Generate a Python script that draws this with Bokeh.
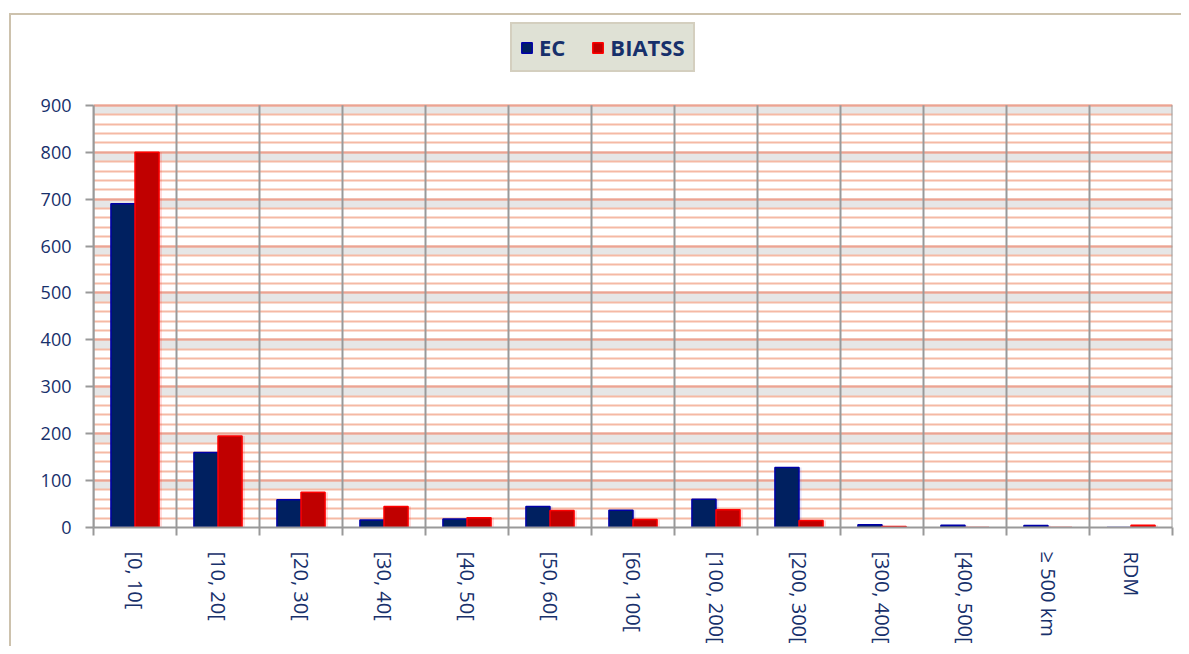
from bokeh.plotting import figure
from bokeh.models import (ColumnDataSource, FixedTicker, SingleIntervalTicker, BoxAnnotation,
                          Legend, LegendItem, Range1d)
from bokeh.embed import file_html
from bokeh.resources import INLINE
import math

categories = ["[0, 10[", "[10, 20[", "[20, 30[", "[30, 40[", "[40, 50[", "[50, 60[",
              "[60, 100[", "[100, 200[", "[200, 300[", "[300, 400[", "[400, 500[",
              "≥ 500 km", "RDM"]
ec = [690, 160, 59, 16, 18, 45, 37, 60, 128, 6, 5, 4, 0]
biatss = [800, 195, 75, 45, 21, 36, 17, 38, 15, 2, 0, 0, 5]
y_ticks = [0, 100, 200, 300, 400, 500, 600, 700, 800, 900]

FONT = "Open Sans"
TXT = "#17306b"
GRID_GREY = "#999999"
BORDER = "#cdc2ad"

n = len(categories)
centers = [i + 0.5 for i in range(n)]
bounds = list(range(n + 1))
bw = 0.29
off = 0.145
y_max = y_ticks[-1]

# frame extends above the value area so the legend can sit there
TOP_BORDER = 20
BOTTOM_Y = 528            # pixel row of value 0
PLOT_PX = 423             # pixels for 0..900
frame_h = BOTTOM_Y - TOP_BORDER
y_end = y_max * frame_h / PLOT_PX

src = ColumnDataSource(dict(
    x_ec=[c - off for c in centers],
    x_bi=[c + off for c in centers],
    x_ec_sh=[c - off + 0.03 for c in centers],
    x_bi_sh=[c + off + 0.035 for c in centers],
    ec=ec, biatss=biatss,
))

p = figure(width=1181, height=646, output_backend="svg", toolbar_location=None,
           x_range=Range1d(0, n), y_range=Range1d(0, y_end),
           min_border_left=93, min_border_right=9, min_border_top=TOP_BORDER,
           min_border_bottom=646 - BOTTOM_Y)
p.outline_line_color = None
p.background_fill_color = "white"
p.border_fill_alpha = 0
p.styles = {
    "background": (f"linear-gradient({BORDER},{BORDER}) 9px 13px / calc(100% - 9px) 2px no-repeat, "
                   f"linear-gradient({BORDER},{BORDER}) 9px 13px / 2px calc(100% - 13px) no-repeat, white"),
}

# grey bands below each major gridline
for v in y_ticks[1:]:
    p.add_layout(BoxAnnotation(bottom=v - 20, top=v, fill_color="#e6e6e6", fill_alpha=1.0,
                               line_color=None, level="image"))

# horizontal grid
p.ygrid.ticker = SingleIntervalTicker(interval=100, num_minor_ticks=5)
p.ygrid.bounds = (0, y_max)
p.ygrid.grid_line_color = "#eba393"
p.ygrid.grid_line_width = 2
p.ygrid.minor_grid_line_color = "#f5b9a4"
p.ygrid.minor_grid_line_width = 2
p.xgrid.visible = False

# vertical category separators
p.segment(x0=bounds, y0=[0] * len(bounds), x1=bounds, y1=[y_max] * len(bounds),
          line_color=GRID_GREY, line_width=2)

# shadows
p.vbar(x="x_ec_sh", top="ec", width=bw, source=src, fill_color="#5a5ad8", fill_alpha=0.18,
       line_color=None)
p.vbar(x="x_bi_sh", top="biatss", width=bw, source=src, fill_color="#ff3030", fill_alpha=0.18,
       line_color=None)

r_ec = p.vbar(x="x_ec", top="ec", width=bw, source=src, fill_color="#002060",
              line_color="#0000a8", line_width=1.5)
r_bi = p.vbar(x="x_bi", top="biatss", width=bw, source=src, fill_color="#c00000",
              line_color="#ff0000", line_width=1.5)

# axes
xa = p.xaxis[0]
xa.ticker = FixedTicker(ticks=centers, minor_ticks=bounds)
xa.major_label_overrides = {c: lab for c, lab in zip(centers, categories)}
xa.major_label_orientation = -math.pi / 2
xa.major_tick_line_color = None
xa.minor_tick_line_color = GRID_GREY
xa.minor_tick_line_width = 2
xa.minor_tick_in = 0
xa.minor_tick_out = 8
xa.axis_line_color = GRID_GREY
xa.axis_line_width = 2
xa.major_label_text_font = FONT
xa.major_label_text_font_size = "20px"
xa.major_label_text_color = TXT
xa.major_label_standoff = 16

ya = p.yaxis[0]
ya.ticker = FixedTicker(ticks=y_ticks)
ya.bounds = (0, y_max)
ya.major_tick_line_color = GRID_GREY
ya.major_tick_line_width = 2
ya.major_tick_in = 0
ya.major_tick_out = 8
ya.minor_tick_line_color = None
ya.axis_line_color = GRID_GREY
ya.axis_line_width = 2
ya.major_label_text_font = FONT
ya.major_label_text_font_size = "18px"
ya.major_label_text_color = TXT
ya.major_label_standoff = 14

legend = Legend(items=[LegendItem(label="EC", renderers=[r_ec]),
                       LegendItem(label="BIATSS", renderers=[r_bi])],
                location=(417, 455), orientation="horizontal",
                background_fill_color="#dfe1d5", background_fill_alpha=1,
                border_line_color="#c9bea9", border_line_width=2,
                label_text_font=FONT, label_text_font_style="bold",
                label_text_font_size="22px", label_text_color=TXT,
                label_text_line_height=0.9,
                glyph_width=13, glyph_height=13, label_standoff=6,
                spacing=26, padding=8, margin=0)
legend.label_height = 20
p.add_layout(legend, "center")

open("out.html", "w").write(file_html(p, INLINE))
